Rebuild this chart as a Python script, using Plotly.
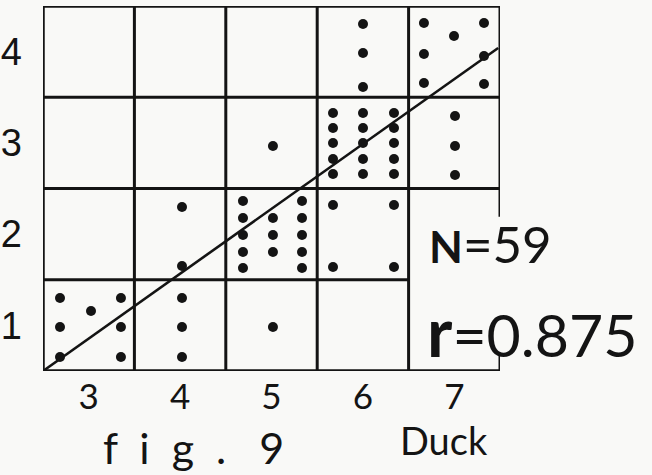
import plotly.graph_objects as go

# Score categories (cells of the correlation table)
duck_scores = [3, 4, 5, 6, 7]
other_scores = [1, 2, 3, 4]
x_tick_labels = ["3", "4", "5", "6", "7"]
y_tick_labels = ["1", "2", "3", "4"]

# One dot per observation, placed inside its table cell (axis units)
dots_x = [
    # cell (3, 1)
    2.686, 3.353, 3.025, 2.686, 3.353, 2.686, 3.353,
    # cell (4, 1)
    4.021, 4.021, 4.021,
    # cell (4, 2)
    4.021, 4.021,
    # cell (5, 1)
    5.016,
    # cell (5, 2)
    4.688, 4.688, 4.688, 4.688, 4.688,
    5.016, 5.016, 5.016,
    5.334, 5.334, 5.334, 5.334, 5.334,
    # cell (5, 3)
    5.016,
    # cell (6, 2)
    5.673, 6.340, 5.673, 6.340,
    # cell (6, 3)
    5.673, 5.673, 5.673, 5.673, 5.673,
    6.001, 6.001, 6.001, 6.001, 6.001,
    6.340, 6.340, 6.340, 6.340, 6.340,
    # cell (6, 4)
    6.001, 6.001, 6.001,
    # cell (7, 4)
    6.668, 7.325, 6.997, 6.668, 7.325, 6.668, 7.325,
    # cell (7, 3)
    7.008, 7.008, 7.008,
]
dots_y = [
    1.300, 1.300, 1.158, 0.982, 0.982, 0.653, 0.653,
    1.300, 0.982, 0.653,
    1.651, 2.297,
    0.982,
    2.363, 2.177, 1.990, 1.804, 1.629,
    2.177, 1.990, 1.804,
    2.363, 2.177, 1.990, 1.804, 1.629,
    2.966,
    2.319, 2.319, 1.640, 1.640,
    3.327, 3.163, 2.999, 2.823, 2.659,
    3.327, 3.163, 2.999, 2.823, 2.659,
    3.327, 3.163, 2.999, 2.823, 2.659,
    4.303, 3.985, 3.612,
    4.314, 4.314, 4.171, 3.974, 3.952, 3.656, 3.645,
    3.295, 2.966, 2.648,
]

# Fitted line end points
line_x = [2.5, 7.48]
line_y = [0.5, 4.04]

n_obs = 59
r_value = "0.875"

INK = "#141414"
PAPER = "#f9f9f7"
GEO = "Lato, sans-serif"

fig = go.Figure()

fig.add_trace(go.Scatter(
    x=line_x, y=line_y, mode="lines",
    line=dict(color=INK, width=2.6), hoverinfo="skip",
))
fig.add_trace(go.Scatter(
    x=dots_x, y=dots_y, mode="markers",
    marker=dict(color=INK, size=10, line=dict(width=0)),
))

# Table cell boundaries
x_lo, x_hi = duck_scores[0] - 0.5, duck_scores[-1] + 0.5
y_lo, y_hi = other_scores[0] - 0.5, other_scores[-1] + 0.5
gw = 3
shapes = []


def seg(x0, y0, x1, y1, w=gw):
    shapes.append(dict(type="line", xref="x", yref="y", x0=x0, y0=y0, x1=x1, y1=y1,
                       line=dict(color=INK, width=w)))


# verticals
seg(x_lo, y_lo, x_lo, y_hi, 3.5)
for c in duck_scores[:-1]:
    seg(c + 0.5, y_lo, c + 0.5, y_hi)
# right border is broken where the statistics are written
seg(x_hi, y_hi, x_hi, 2.19)
seg(x_hi, y_lo, x_hi, 0.70)
# horizontals
seg(x_lo, y_lo, x_hi + 0.02, y_lo, 3.5)
seg(x_lo, y_hi, x_hi, y_hi, 3.5)
for r in other_scores[:-1]:
    right = 6.5 if r == 1 else x_hi
    seg(x_lo, r + 0.5, right, r + 0.5)

annotations = [
    dict(text='<span style="font-size:44px"><b>N</b></span>=' + str(n_obs),
         xref="paper", yref="paper",
         x=0.84, y=0.35, xanchor="left", yanchor="middle", showarrow=False,
         font=dict(family=GEO, size=51, color=INK)),
    dict(text='<span style="font-size:68px"><b>r</b></span>=' + r_value,
         xref="paper", yref="paper",
         x=0.835, y=0.11, xanchor="left", yanchor="middle", showarrow=False,
         font=dict(family=GEO, size=59, color=INK)),
    dict(text="Duck", xref="paper", yref="paper", x=0.877, y=-0.19,
         xanchor="center", yanchor="middle", showarrow=False,
         font=dict(family=GEO, size=38, color=INK)),
    dict(text="f\u00a0\u00a0i\u00a0\u00a0g\u00a0\u00a0.\u00a0\u00a0\u00a09",
         xref="paper", yref="paper", x=0.128, y=-0.21,
         xanchor="left", yanchor="middle", showarrow=False,
         font=dict(family=GEO, size=43, color=INK)),
]

fig.update_layout(
    width=652, height=475,
    margin=dict(l=43, r=152, t=6, b=104, autoexpand=False),
    paper_bgcolor=PAPER, plot_bgcolor=PAPER,
    showlegend=False,
    shapes=shapes,
    annotations=annotations,
    xaxis=dict(range=[x_lo, x_hi], tickvals=duck_scores, ticktext=x_tick_labels,
               showgrid=False, zeroline=False, showline=False, ticks="",
               ticklabelstandoff=2,
               tickfont=dict(family=GEO, size=35, color=INK)),
    yaxis=dict(range=[y_lo, y_hi], tickvals=other_scores, ticktext=y_tick_labels,
               showgrid=False, zeroline=False, showline=False, ticks="",
               ticklabelstandoff=20,
               tickfont=dict(family="'Liberation Sans'", size=38, color=INK)),
)

fig.write_html("out.html")
